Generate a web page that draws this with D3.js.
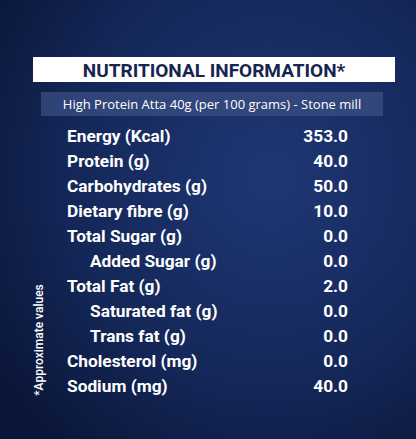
<!DOCTYPE html><html><head><meta charset="utf-8">
<script src="https://cdn.jsdelivr.net/npm/d3@7"></script>
<style>body{margin:0;background:#0f1d48}</style></head><body>
<script>
const labels=["Energy (Kcal)","Protein (g)","Carbohydrates (g)","Dietary fibre (g)","Total Sugar (g)","Added Sugar (g)","Total Fat (g)","Saturated fat (g)","Trans fat (g)","Cholesterol (mg)","Sodium (mg)"];
const values=[353.0,40.0,50.0,10.0,0.0,0.0,2.0,0.0,0.0,0.0,40.0];
const indent=[0,0,0,0,0,1,0,1,1,0,0];
const W=416,H=439;
const svg=d3.select("body").append("svg").attr("width",W).attr("height",H).style("font-family","Roboto");
const defs=svg.append("defs");
const g=defs.append("radialGradient").attr("id","bg").attr("cx","65%").attr("cy","40%").attr("r","80%");
g.append("stop").attr("offset","0%").attr("stop-color","#1f3775");
g.append("stop").attr("offset","60%").attr("stop-color","#142758");
g.append("stop").attr("offset","100%").attr("stop-color","#0a1638");
svg.append("rect").attr("width",W).attr("height",H).attr("fill","url(#bg)");
svg.append("rect").attr("x",33).attr("y",57).attr("width",362).attr("height",25).attr("fill","#fff");
svg.append("text").attr("x",214).attr("y",77).attr("text-anchor","middle").attr("font-size",19).attr("font-weight",700).attr("fill","#17244f").text("NUTRITIONAL INFORMATION*");
svg.append("rect").attr("x",41).attr("y",92).attr("width",342).attr("height",24).attr("fill","#3a4f82").attr("opacity",0.75);
svg.append("text").attr("x",212).attr("y",109).attr("text-anchor","middle").attr("font-family","Open Sans").attr("font-size",13).attr("font-weight",500).attr("fill","#fff").text("High Protein Atta 40g (per 100 grams) - Stone mill");
const y=d3.scaleBand().domain(d3.range(labels.length)).range([124,398]);
const rows=svg.selectAll("g.r").data(labels).join("g").attr("transform",(d,i)=>`translate(0,${y(i)+y.bandwidth()/2+6})`);
rows.append("text").attr("x",(d,i)=>indent[i]?90:67).attr("font-size",17.3).attr("font-weight",700).attr("fill","#fff").text(d=>d);
rows.append("text").attr("x",348).attr("text-anchor","end").attr("font-size",17.3).attr("font-weight",700).attr("fill","#fff").text((d,i)=>values[i].toFixed(1));
svg.append("text").attr("transform","translate(43,340) rotate(-90)").attr("text-anchor","middle").attr("font-size",12).attr("font-weight",500).attr("fill","#fff").text("*Approximate values");
</script></body></html>
